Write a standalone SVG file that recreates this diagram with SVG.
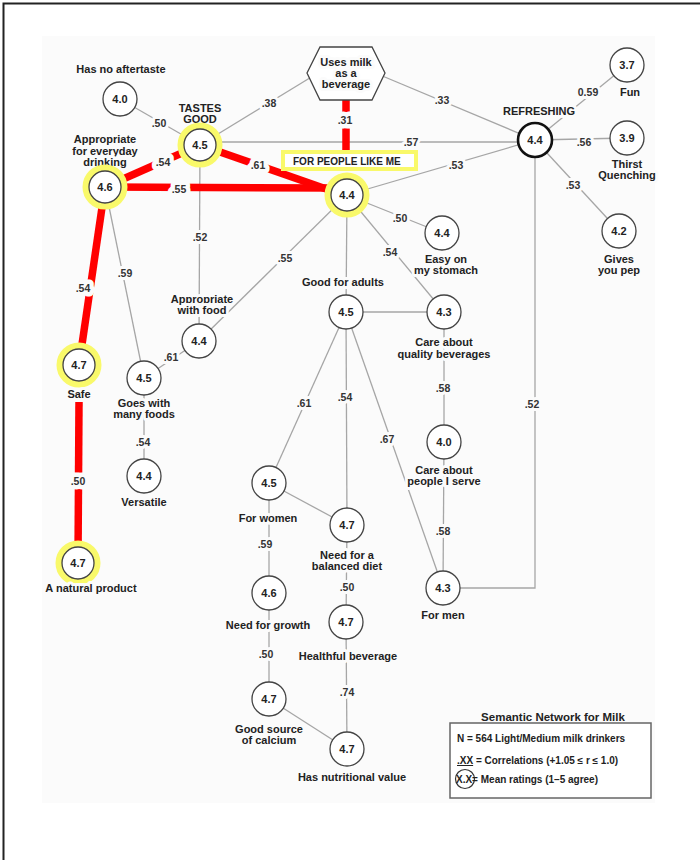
<svg xmlns="http://www.w3.org/2000/svg" width="700" height="860" viewBox="0 0 700 860">
<style>
text{font-family:"Liberation Sans",Arial,sans-serif;font-weight:bold;fill:#222;text-anchor:middle;paint-order:stroke;stroke:#fbfbfb;stroke-width:6px;stroke-linejoin:round}
.lb{font-size:11px}
.el{font-size:10.5px;fill:#333}
.er{font-size:10.5px;fill:#333;stroke-width:9px}
.num{font-size:11px;stroke:none}
.g{stroke:#a6a6a6;stroke-width:1.3;fill:none}
.r{stroke:#ff0000;stroke-width:7.5;fill:none}
.n{fill:#fff;stroke:#444;stroke-width:1.3}
.hl{fill:none;stroke:#f9f96a;stroke-width:7}
.lg{font-size:10px;text-anchor:start;stroke:none}
</style>
<rect x="0" y="0" width="700" height="860" fill="#fff"/>
<rect x="42" y="36" width="613" height="767" fill="#fbfbfb"/>
<path d="M3.5 860 V3.5 H700" fill="none" stroke="#222" stroke-width="2"/>

<g id="connectors">
  <line class="g" x1="120" y1="99" x2="200" y2="145"/>
  <line class="g" x1="200" y1="145" x2="313" y2="76"/>
  <line class="g" x1="380" y1="75" x2="535" y2="140"/>
  <line class="g" x1="200" y1="142" x2="535" y2="142"/>
  <line class="g" x1="347" y1="195" x2="535" y2="140"/>
  <line class="g" x1="535" y1="140" x2="627" y2="65"/>
  <line class="g" x1="535" y1="140" x2="627" y2="138"/>
  <line class="g" x1="535" y1="140" x2="619" y2="231"/>
  <line class="g" x1="347" y1="195" x2="442" y2="233"/>
  <line class="g" x1="347" y1="195" x2="444" y2="312"/>
  <line class="g" x1="347" y1="195" x2="346" y2="312"/>
  <line class="g" x1="347" y1="195" x2="199" y2="341"/>
  <line class="g" x1="200" y1="145" x2="199" y2="341"/>
  <line class="g" x1="105" y1="187" x2="144" y2="378"/>
  <line class="g" x1="199" y1="341" x2="144" y2="378"/>
  <line class="g" x1="144" y1="378" x2="144" y2="476"/>
  <line class="g" x1="346" y1="312" x2="444" y2="312"/>
  <line class="g" x1="444" y1="312" x2="444" y2="442"/>
  <line class="g" x1="444" y1="442" x2="443" y2="588"/>
  <line class="g" x1="346" y1="312" x2="269" y2="483"/>
  <line class="g" x1="346" y1="312" x2="347" y2="525"/>
  <line class="g" x1="346" y1="312" x2="443" y2="588"/>
  <line class="g" x1="269" y1="483" x2="347" y2="525"/>
  <line class="g" x1="269" y1="483" x2="269" y2="593"/>
  <line class="g" x1="347" y1="525" x2="346" y2="622"/>
  <line class="g" x1="269" y1="593" x2="269" y2="699"/>
  <line class="g" x1="346" y1="622" x2="347" y2="749"/>
  <line class="g" x1="269" y1="699" x2="347" y2="749"/>
  <polyline class="g" points="443,588 535,588 535,140"/>

  <line class="r" x1="346" y1="97" x2="346" y2="153"/>
  <line class="r" x1="200" y1="145" x2="105" y2="187"/>
  <line class="r" x1="200" y1="145" x2="332" y2="191"/>
  <line class="r" x1="105" y1="187" x2="332" y2="188"/>
  <line class="r" x1="105" y1="187" x2="79" y2="365"/>
  <line class="r" x1="79" y1="402" x2="78" y2="560"/>

  <text class="el" x="159" y="127">.50</text>
  <text class="el" x="269" y="107">.38</text>
  <text class="er" x="345" y="124">.31</text>
  <text class="el" x="442" y="104">.33</text>
  <text class="er" x="163" y="166">.54</text>
  <text class="er" x="258" y="169">.61</text>
  <text class="er" x="179" y="193">.55</text>
  <text class="el" x="411" y="146">.57</text>
  <text class="el" x="456" y="169">.53</text>
  <text class="el" x="588" y="96">0.59</text>
  <text class="el" x="584" y="146">.56</text>
  <text class="el" x="573" y="189">.53</text>
  <text class="el" x="400" y="222">.50</text>
  <text class="el" x="390" y="256">.54</text>
  <text class="el" x="285" y="262">.55</text>
  <text class="el" x="200" y="241">.52</text>
  <text class="el" x="125" y="277">.59</text>
  <text class="er" x="83" y="292">.54</text>
  <text class="el" x="171" y="361">.61</text>
  <text class="el" x="143" y="446">.54</text>
  <text class="er" x="78" y="485">.50</text>
  <text class="el" x="304" y="407">.61</text>
  <text class="el" x="345" y="401">.54</text>
  <text class="el" x="387" y="443">.67</text>
  <text class="el" x="443" y="392">.58</text>
  <text class="el" x="532" y="408">.52</text>
  <text class="el" x="443" y="535">.58</text>
  <text class="el" x="265" y="548">.59</text>
  <text class="el" x="347" y="591">.50</text>
  <text class="el" x="266" y="658">.50</text>
  <text class="el" x="347" y="696">.74</text>
</g>

<g id="uses-milk">
  <polygon points="320,47 372,47 385,73 372,100 320,100 307,73" fill="#fff" stroke="#444" stroke-width="1.3"/>
  <text class="lb" x="346" y="66" stroke="none" font-size="10.5">Uses milk</text>
  <text class="lb" x="346" y="77" stroke="none" font-size="10.5">as a</text>
  <text class="lb" x="346" y="88" stroke="none" font-size="10.5">beverage</text>
</g>

<g id="no-aftertaste">
  <text class="lb" x="121" y="73">Has no aftertaste</text>
  <circle class="n" cx="120" cy="99" r="17"/>
  <text class="num" x="120" y="103">4.0</text>
</g>

<g id="tastes-good">
  <text class="lb" x="200" y="112">TASTES</text>
  <text class="lb" x="200" y="123">GOOD</text>
  <circle class="hl" cx="200" cy="145" r="19"/>
  <circle class="n" cx="200" cy="145" r="16"/>
  <text class="num" x="200" y="149">4.5</text>
</g>

<g id="everyday">
  <text class="lb" x="105" y="143">Appropriate</text>
  <text class="lb" x="105" y="155">for everyday</text>
  <text class="lb" x="105" y="166">drinking</text>
  <circle class="hl" cx="105" cy="187" r="19"/>
  <circle class="n" cx="105" cy="187" r="16"/>
  <text class="num" x="105" y="191">4.6</text>
</g>

<g id="people-like-me">
  <rect x="283" y="152" width="133" height="17" fill="#fff" stroke="#f9f96a" stroke-width="4"/>
  <text x="293" y="165" font-size="10px" style="text-anchor:start;stroke:none">FOR PEOPLE LIKE ME</text>
  <circle class="hl" cx="347" cy="195" r="19"/>
  <circle class="n" cx="347" cy="195" r="16"/>
  <text class="num" x="347" y="199">4.4</text>
</g>

<g id="refreshing">
  <text class="lb" x="539" y="115">REFRESHING</text>
  <circle cx="535" cy="140" r="17" fill="#fff" stroke="#111" stroke-width="2.6"/>
  <text class="num" x="535" y="144">4.4</text>
</g>

<g id="fun">
  <circle class="n" cx="627" cy="65" r="17"/>
  <text class="num" x="627" y="69">3.7</text>
  <text class="lb" x="630" y="96">Fun</text>
</g>

<g id="thirst">
  <circle class="n" cx="627" cy="138" r="17"/>
  <text class="num" x="627" y="142">3.9</text>
  <text class="lb" x="627" y="168">Thirst</text>
  <text class="lb" x="627" y="179">Quenching</text>
</g>

<g id="pep">
  <circle class="n" cx="619" cy="231" r="17"/>
  <text class="num" x="619" y="235">4.2</text>
  <text class="lb" x="619" y="263">Gives</text>
  <text class="lb" x="619" y="274">you pep</text>
</g>

<g id="stomach">
  <circle class="n" cx="442" cy="233" r="17"/>
  <text class="num" x="442" y="237">4.4</text>
  <text class="lb" x="446" y="263">Easy on</text>
  <text class="lb" x="446" y="274">my stomach</text>
</g>

<g id="adults">
  <text class="lb" x="343" y="286">Good for adults</text>
  <circle class="n" cx="346" cy="312" r="17"/>
  <text class="num" x="346" y="316">4.5</text>
</g>

<g id="quality">
  <circle class="n" cx="444" cy="312" r="17"/>
  <text class="num" x="444" y="316">4.3</text>
  <text class="lb" x="444" y="346">Care about</text>
  <text class="lb" x="444" y="358">quality beverages</text>
</g>

<g id="serve">
  <circle class="n" cx="444" cy="442" r="17"/>
  <text class="num" x="444" y="446">4.0</text>
  <text class="lb" x="444" y="474">Care about</text>
  <text class="lb" x="444" y="485">people I serve</text>
</g>

<g id="men">
  <circle class="n" cx="443" cy="588" r="17"/>
  <text class="num" x="443" y="592">4.3</text>
  <text class="lb" x="443" y="619">For men</text>
</g>

<g id="with-food">
  <text class="lb" x="202" y="303">Appropriate</text>
  <text class="lb" x="202" y="314">with food</text>
  <circle class="n" cx="199" cy="341" r="17"/>
  <text class="num" x="199" y="345">4.4</text>
</g>

<g id="many-foods">
  <circle class="n" cx="144" cy="378" r="17"/>
  <text class="num" x="144" y="382">4.5</text>
  <text class="lb" x="144" y="407">Goes with</text>
  <text class="lb" x="144" y="418">many foods</text>
</g>

<g id="versatile">
  <circle class="n" cx="144" cy="476" r="17"/>
  <text class="num" x="144" y="480">4.4</text>
  <text class="lb" x="144" y="506">Versatile</text>
</g>

<g id="safe">
  <circle class="hl" cx="79" cy="365" r="19"/>
  <circle class="n" cx="79" cy="365" r="16"/>
  <text class="num" x="79" y="369">4.7</text>
  <text class="lb" x="79" y="398">Safe</text>
</g>

<g id="natural">
  <circle class="hl" cx="78" cy="563" r="19"/>
  <circle class="n" cx="78" cy="563" r="16"/>
  <text class="num" x="78" y="567">4.7</text>
  <text class="lb" x="91" y="592">A natural product</text>
</g>

<g id="women">
  <circle class="n" cx="269" cy="483" r="17"/>
  <text class="num" x="269" y="487">4.5</text>
  <text class="lb" x="268" y="522">For women</text>
</g>

<g id="balanced">
  <circle class="n" cx="347" cy="525" r="17"/>
  <text class="num" x="347" y="529">4.7</text>
  <text class="lb" x="347" y="559">Need for a</text>
  <text class="lb" x="347" y="570">balanced diet</text>
</g>

<g id="growth">
  <circle class="n" cx="269" cy="593" r="17"/>
  <text class="num" x="269" y="597">4.6</text>
  <text class="lb" x="268" y="629">Need for growth</text>
</g>

<g id="healthful">
  <circle class="n" cx="346" cy="622" r="17"/>
  <text class="num" x="346" y="626">4.7</text>
  <text class="lb" x="348" y="660">Healthful beverage</text>
</g>

<g id="calcium">
  <circle class="n" cx="269" cy="699" r="17"/>
  <text class="num" x="269" y="703">4.7</text>
  <text class="lb" x="269" y="733">Good source</text>
  <text class="lb" x="269" y="744">of calcium</text>
</g>

<g id="nutritional">
  <circle class="n" cx="347" cy="749" r="17"/>
  <text class="num" x="347" y="753">4.7</text>
  <text class="lb" x="352" y="781">Has nutritional value</text>
</g>

<g id="legend">
  <text x="553" y="721" font-size="11.5px" style="stroke:none">Semantic Network for Milk</text>
  <rect x="450" y="723" width="201" height="75" fill="#fff" stroke="#666" stroke-width="1.5"/>
  <text class="lg" x="457" y="742">N = 564 Light/Medium milk drinkers</text>
  <text class="lg" x="457" y="764"><tspan text-decoration="underline">.XX</tspan> = Correlations (+1.05 ≤ r ≤ 1.0)</text>
  <circle cx="465" cy="779" r="9.5" fill="none" stroke="#333" stroke-width="1.2"/>
  <text class="lg" x="456" y="783">X.X= Mean ratings (1–5 agree)</text>
</g>
</svg>
